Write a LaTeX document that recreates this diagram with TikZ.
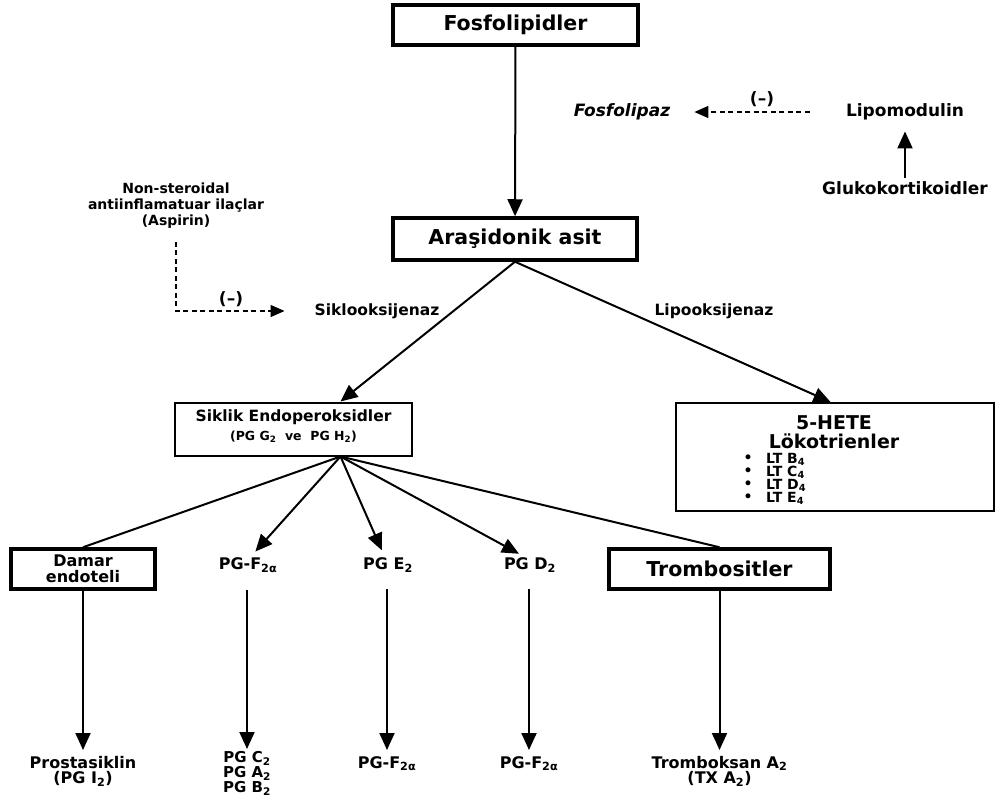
\documentclass[tikz,border=0pt]{standalone}
\usepackage{fontspec}
\setmainfont{DejaVu Sans}[BoldFont={DejaVu Sans Bold},BoldItalicFont={DejaVu Sans Bold Oblique}]
\usetikzlibrary{arrows.meta}
\newcommand\fsBig{\fontsize{20.5bp}{22bp}\selectfont}
\newcommand\fsHete{\fontsize{19bp}{20bp}\selectfont}
\newcommand\fsMed{\fontsize{15.5bp}{18bp}\selectfont}
\newcommand\fsLab{\fontsize{17bp}{18bp}\selectfont}
\newcommand\fsNode{\fontsize{16bp}{15.5bp}\selectfont}
\newcommand\fsList{\fontsize{15bp}{12.5bp}\selectfont}
\newcommand\fsSm{\fontsize{14bp}{16bp}\selectfont}
\newcommand\fsXs{\fontsize{12.5bp}{14bp}\selectfont}
\newcommand\sub[1]{\textsubscript{#1}}
\begin{document}
\begin{tikzpicture}[x=1bp,y=-1bp,font=\bfseries,
  box/.style={draw,line width=2bp,inner sep=0pt},
  heavybox/.style={draw,line width=3.5bp,inner sep=0pt},
  lbl/.style={inner sep=0pt,align=center},
  flow/.style={line width=2bp,-{Triangle[length=17bp,width=15bp]}},
  link/.style={line width=2bp},
  inhib/.style={line width=1.4bp,dash pattern=on 5bp off 3.5bp,-{Triangle[length=14bp,width=12bp]}}]
\useasboundingbox (0,0) rectangle (995,795);

% top of the pathway
\node[heavybox,minimum width=245bp,minimum height=40bp] (fos) at (515.5,25) {\fsBig Fosfolipidler};
\node[heavybox,minimum width=244bp,minimum height=42bp] (ara) at (515,239) {\fsBig Araşidonik asit};
\draw[flow] (fos) -- (ara);

% phospholipase inhibition by lipomodulin
\node[lbl,font=\bfseries\itshape\fsLab] (fpz) at (622,112) {Fosfolipaz};
\node[lbl,font=\bfseries\fsLab] (lipo) at (905,112) {Lipomodulin};
\node[lbl,font=\bfseries\fsLab] (gluko) at (905,188) {Glukokortikoidler};
\draw[flow,shorten <=3bp,shorten >=11bp] (gluko.north) -- (lipo.south);
\draw[inhib,shorten <=36bp,shorten >=24bp] (lipo.west) -- (fpz.east);
\node[lbl,font=\bfseries\fsLab] (minusA) at (762,99) {(–)};

% cyclooxygenase inhibition by NSAIDs
\node[lbl,font=\bfseries\fsSm] (nsaid) at (176,206) {Non-steroidal\\antiinflamatuar ilaçlar\\(Aspirin)};
\node[lbl,font=\bfseries\fsMed] (siklo) at (377,311) {Siklooksijenaz};
\node[lbl,font=\bfseries\fsMed] (lipox) at (714,311) {Lipooksijenaz};
\draw[inhib,shorten >=30bp] ([yshift=-13bp]nsaid.south) |- (siklo.west);
\node[lbl,font=\bfseries\fsLab] (minusB) at (231,299) {(–)};

% cyclic endoperoxides
\node[box,minimum width=237bp,minimum height=53bp] (sik) at (293.5,429) {};
\node[lbl,font=\bfseries\fsMed] (sikT) at (293.5,417) {Siklik Endoperoksidler};
\node[lbl,font=\bfseries\fsXs] (sikS) at (293.5,437) {(PG G\sub{2}\ \ ve\ \ PG H\sub{2})};

% 5-HETE and leukotrienes
\node[box,minimum width=318bp,minimum height=108bp] (het) at (834.5,457) {};
\node[lbl,font=\bfseries\fsHete] (hetT) at (834,423) {5-HETE};
\node[lbl,font=\bfseries\fsHete] (lok) at (834,441) {Lökotrienler};
\foreach \n/\l/\yy in {b/B/459,c/C/472,d/D/485,e/E/498}{
  \node[lbl,font=\bfseries\fsSm] (dot\n) at (748,\yy) {•};
  \node[lbl,font=\bfseries\fsSm,anchor=west] (lt\n) at (766,\yy) {LT \l\sub{4}};
}

\draw[flow] (ara.south) -- ([xshift=47bp]sik.north);
\draw[flow] (ara.south) -- ([xshift=-4bp]het.north);

% products of the endoperoxides
\coordinate (fan) at ([xshift=47bp]sik.south);
\node[heavybox,minimum width=144bp,minimum height=40bp,align=center,font=\bfseries\fsNode] (damar) at (83,569) {Damar\\endoteli};
\node[lbl,font=\bfseries\fsNode] (pgf) at (248,565) {PG-F\sub{2α}};
\node[lbl,font=\bfseries\fsNode] (pge) at (388,565) {PG E\sub{2}};
\node[lbl,font=\bfseries\fsNode] (pgd) at (530,565) {PG D\sub{2}};
\node[heavybox,minimum width=221bp,minimum height=40bp,font=\bfseries\fsBig] (tromb) at (719.5,569) {Trombositler};

\draw[link] (fan) -- (damar.north);
\draw[flow,shorten >=8bp] (fan) -- ([xshift=2bp]pgf.north);
\draw[flow,shorten >=8bp] (fan) -- ([xshift=-3bp]pge.north);
\draw[flow,shorten >=8bp] (fan) -- ([xshift=-4bp]pgd.north);
\draw[link] (fan) -- (tromb.north);

% end products
\node[lbl,font=\bfseries\fsNode,anchor=north] (prost) at (83,756) {Prostasiklin\\(PG I\sub{2})};
\node[lbl,font=\bfseries\fsList,anchor=north] (pgcab) at (247,751) {PG C\sub{2}\\PG A\sub{2}\\PG B\sub{2}};
\node[lbl,font=\bfseries\fsNode,anchor=north] (pgfb) at (387,756) {PG-F\sub{2α}};
\node[lbl,font=\bfseries\fsNode,anchor=north] (pgfc) at (529,756) {PG-F\sub{2α}};
\node[lbl,font=\bfseries\fsNode,anchor=north] (txa) at (719.5,756) {Tromboksan A\sub{2}\\(TX A\sub{2})};

\draw[flow,shorten >=6bp] (damar.south) -- (prost.north);
\draw[flow,shorten <=17bp,shorten >=2bp] ([xshift=-1bp]pgf.south) -- (pgcab.north);
\draw[flow,shorten <=17bp,shorten >=6bp] ([xshift=-1bp]pge.south) -- (pgfb.north);
\draw[flow,shorten <=17bp,shorten >=6bp] ([xshift=-1bp]pgd.south) -- (pgfc.north);
\draw[flow,shorten >=6bp] (tromb.south) -- (txa.north);
\end{tikzpicture}
\end{document}
